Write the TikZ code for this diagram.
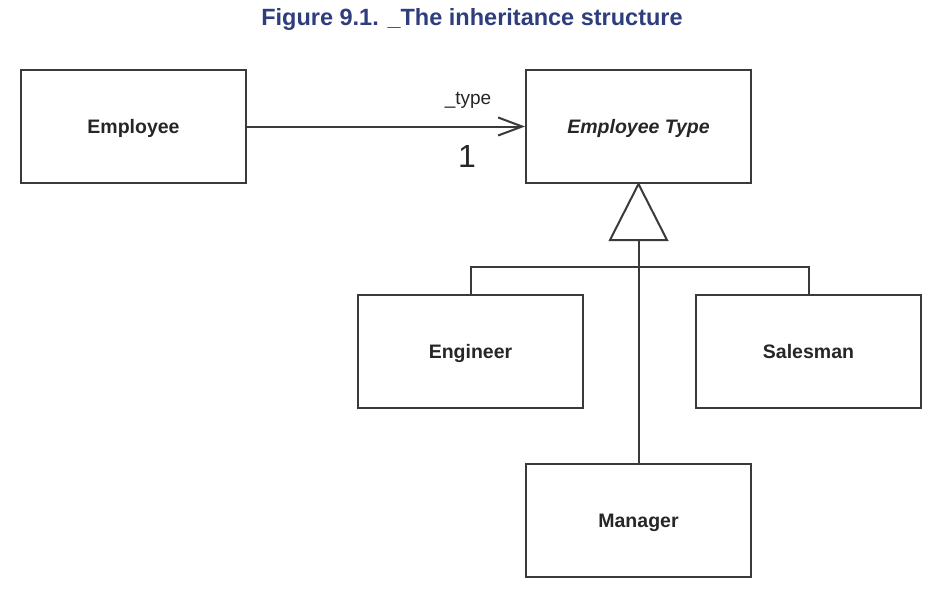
\documentclass[tikz,border=0pt]{standalone}
\usepackage{fontspec}
\setmainfont{Liberation Sans}
\usetikzlibrary{arrows.meta}
\definecolor{titleblue}{HTML}{2E3D7C}
\definecolor{linegray}{HTML}{3A3A3A}
\begin{document}
\begin{tikzpicture}[x=1pt,y=-1pt,
  cls/.style={draw=linegray,line width=2pt,minimum width=225pt,minimum height=113pt,inner sep=0pt,
    text depth=0pt,font=\fontsize{19.5}{22}\selectfont\bfseries,text=black!85},
  conn/.style={draw=linegray,line width=2pt}]
\useasboundingbox (0,0) rectangle (946,594);
\node[font=\fontsize{23.5}{26}\selectfont\bfseries,text=titleblue] (title) at (472,19) {Figure 9.1. \_The inheritance structure};
\node[cls] (emp) at (133.5,126.5) {Employee};
\node[cls,font=\fontsize{19.5}{22}\selectfont\bfseries\itshape] (etype) at (638.5,126.5) {Employee Type};
\node[cls] (eng) at (470.5,351.5) {Engineer};
\node[cls] (sal) at (808.5,351.5) {Salesman};
\node[cls] (man) at (638.5,520.5) {Manager};
\draw[conn,-{Straight Barb[length=24pt,width=18pt,line width=2pt]}] (emp.east) -- (etype.west);
\node[font=\fontsize{19}{21}\selectfont,text=black!85] (lt) at (468,100) {\_type};
\node[font=\fontsize{32}{34}\selectfont,text=black!85] (lone) at (467,156) {1};
\coordinate (tl) at (610,240);
\coordinate (tr) at (667,240);
\coordinate (tb) at (638.5,240);
\draw[conn,line join=miter] (etype.south) -- (tr) -- (tl) -- cycle;
\coordinate (barl) at (eng.north |- 0,267);
\coordinate (barr) at (sal.north |- 0,267);
\draw[conn] (eng.north) -- (barl) -- (barr) -- (sal.north);
\draw[conn] (tb) -- (man.north);
\end{tikzpicture}
\end{document}
